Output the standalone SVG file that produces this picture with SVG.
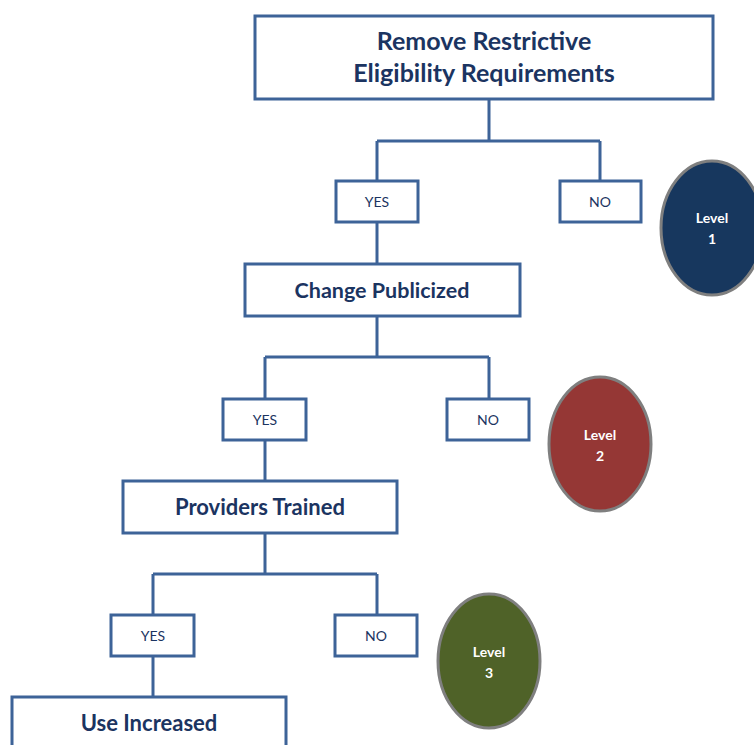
<svg xmlns="http://www.w3.org/2000/svg" width="754" height="745" viewBox="0 0 754 745">
<style>
.box{fill:#fff;stroke:#3d6398;stroke-width:3}
.con{fill:none;stroke:#3d6398;stroke-width:3}
.lvl{stroke:#7f7f7f;stroke-width:3}
.t{font-family:Lato,"Open Sans",sans-serif;font-weight:bold;fill:#1b3461;text-anchor:middle}
.s{font-family:Lato,"Open Sans",sans-serif;fill:#1b3461;text-anchor:middle;font-size:14px}
.w{font-family:Lato,"Open Sans",sans-serif;font-weight:bold;fill:#fff;text-anchor:middle;font-size:14px}
</style>
<rect width="754" height="745" fill="#fff"/>
<g id="connectors">
<path class="con" d="M489 99V141M377 141H600M377 141V181M600 141V181"/>
<path class="con" d="M377 222V264"/>
<path class="con" d="M377 316V357M265 357H489M265 357V399M489 357V399"/>
<path class="con" d="M265 440V481"/>
<path class="con" d="M265 533V574M153 574H377M153 574V615M377 574V615"/>
<path class="con" d="M153 656V697"/>
</g>
<g id="n1"><rect class="box" x="255" y="16" width="458" height="83"/>
<text class="t" x="484" y="50" font-size="25">Remove Restrictive</text>
<text class="t" x="484" y="82" font-size="25">Eligibility Requirements</text></g>
<g id="yes1"><rect class="box" x="336" y="181" width="82" height="41"/><text class="s" x="377" y="207">YES</text></g>
<g id="no1"><rect class="box" x="560" y="181" width="81" height="41"/><text class="s" x="600" y="207">NO</text></g>
<g id="n2"><rect class="box" x="245" y="264" width="275" height="52"/><text class="t" x="382" y="298" font-size="21.5">Change Publicized</text></g>
<g id="yes2"><rect class="box" x="223" y="399" width="83" height="41"/><text class="s" x="265" y="425">YES</text></g>
<g id="no2"><rect class="box" x="447" y="399" width="82" height="41"/><text class="s" x="488" y="425">NO</text></g>
<g id="n3"><rect class="box" x="123" y="481" width="274" height="52"/><text class="t" x="260" y="515" font-size="22">Providers Trained</text></g>
<g id="yes3"><rect class="box" x="111" y="615" width="83" height="41"/><text class="s" x="153" y="641">YES</text></g>
<g id="no3"><rect class="box" x="335" y="615" width="82" height="41"/><text class="s" x="376" y="641">NO</text></g>
<g id="n4"><rect class="box" x="12" y="697" width="274" height="60"/><text class="t" x="149" y="731" font-size="22">Use Increased</text></g>
<g id="level1"><ellipse class="lvl" cx="712" cy="228" rx="51" ry="67" fill="#17375e"/>
<text class="w" x="712" y="223">Level</text><text class="w" x="712" y="244">1</text></g>
<g id="level2"><ellipse class="lvl" cx="600" cy="444" rx="51" ry="67" fill="#953735"/>
<text class="w" x="600" y="440">Level</text><text class="w" x="600" y="461">2</text></g>
<g id="level3"><ellipse class="lvl" cx="489" cy="661" rx="51" ry="67" fill="#4f6228"/>
<text class="w" x="489" y="657">Level</text><text class="w" x="489" y="678">3</text></g>
</svg>
